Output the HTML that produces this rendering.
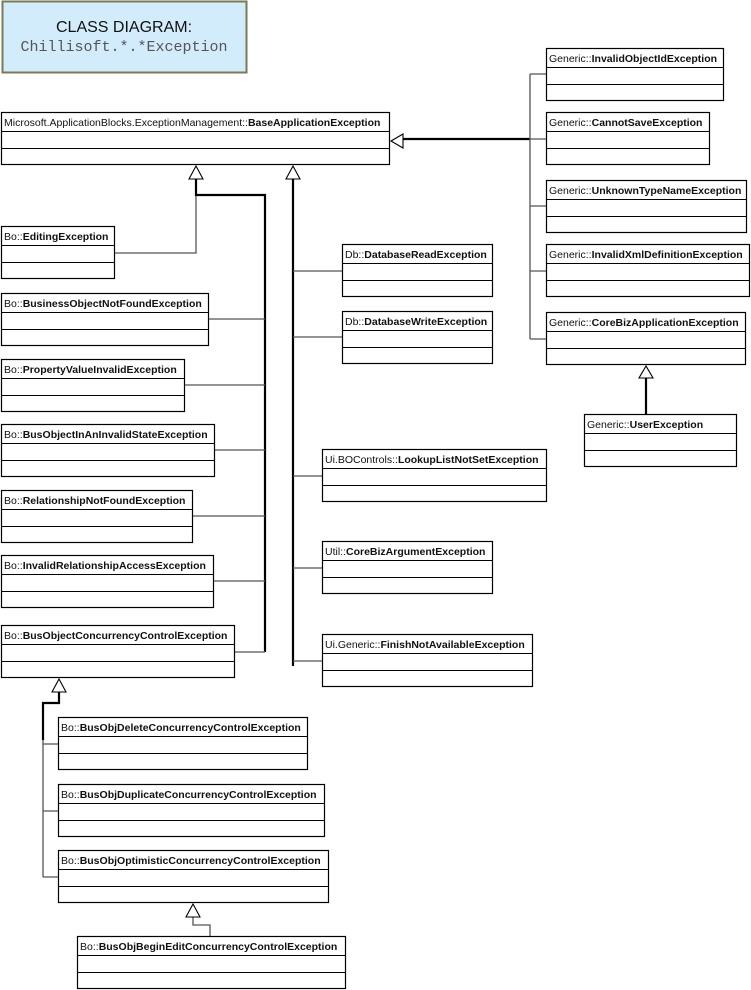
<!DOCTYPE html>
<html><head><meta charset="utf-8"><style>
html,body{margin:0;padding:0;background:#fff;}
svg{display:block;}
text{font-family:"Liberation Sans",sans-serif;font-size:10.5px;fill:#111;}
.b{font-weight:bold;}
.r{fill:#fff;stroke:#000;stroke-width:1.2;}
.t{stroke:#555;stroke-width:1.3;fill:none;}
.k{stroke:#000;stroke-width:2.2;fill:none;}
.tri{fill:#fff;stroke:#000;stroke-width:1.1;}
</style></head><body>
<svg width="751" height="990" viewBox="0 0 751 990" xmlns="http://www.w3.org/2000/svg">
<rect x="2.5" y="1.5" width="244" height="71" fill="#d3ecfb" stroke="#7a7a55" stroke-width="2"/>
<text x="124" y="32" text-anchor="middle" style="font-size:16px">CLASS DIAGRAM:</text>
<text x="124" y="51" text-anchor="middle" style="font-family:'Liberation Mono',monospace;font-size:15px;fill:#555">Chillisoft.*.*Exception</text>

<!-- connectors -->
<path class="k" d="M402 139H530"/>
<path class="t" d="M530 74V339M530 74H546M530 139H546M530 206H546M530 271H546M530 339H546"/>
<path class="k" d="M646 377V414"/>
<path class="t" d="M114 253H196V179"/>
<path class="k" d="M196 179V195H265V652"/>
<path class="t" d="M209 319H265M184 385H265M214 450H265M192 516H265M213 581H265M235 652H265"/>
<path class="k" d="M293 179V666"/>
<path class="t" d="M293 271H342M293 337H342M293 476H322M293 568H322M293 661H322"/>
<path class="k" d="M59 692V703H43V740"/>
<path class="t" d="M43 740V877M43 744H58M43 811H58M43 877H58"/>
<path class="t" d="M193 917V925H210V937"/>

<!-- arrowheads -->
<polygon class="tri" points="196,166 189,179 203,179"/>
<polygon class="tri" points="293,166 286,179 300,179"/>
<polygon class="tri" points="391,141 403,134 403,148"/>
<polygon class="tri" points="646,366 639,378 653,378"/>
<polygon class="tri" points="59,679 52,692 66,692"/>
<polygon class="tri" points="193,904 186,917 200,917"/>

<!-- base -->
<rect class="r" x="1.5" y="112.5" width="388" height="52"/><path stroke="#000" d="M1.5 131.5H389.5M1.5 148.5H389.5"/>
<text x="4" y="126">Microsoft.ApplicationBlocks.ExceptionManagement::<tspan class="b">BaseApplicationException</tspan></text>

<!-- generic boxes -->
<rect class="r" x="546.5" y="48.5" width="177" height="52"/><path stroke="#000" d="M546.5 67.5h177M546.5 84.5h177"/><text x="549" y="62">Generic::<tspan class="b">InvalidObjectIdException</tspan></text>
<rect class="r" x="546.5" y="112.5" width="163" height="52"/><path stroke="#000" d="M546.5 131.5h163M546.5 148.5h163"/><text x="549" y="126">Generic::<tspan class="b">CannotSaveException</tspan></text>
<rect class="r" x="546.5" y="180.5" width="200" height="52"/><path stroke="#000" d="M546.5 199.5h200M546.5 216.5h200"/><text x="549" y="194">Generic::<tspan class="b">UnknownTypeNameException</tspan></text>
<rect class="r" x="546.5" y="244.5" width="203" height="52"/><path stroke="#000" d="M546.5 263.5h203M546.5 280.5h203"/><text x="549" y="258">Generic::<tspan class="b">InvalidXmlDefinitionException</tspan></text>
<rect class="r" x="546.5" y="312.5" width="199" height="52"/><path stroke="#000" d="M546.5 331.5h199M546.5 348.5h199"/><text x="549" y="326">Generic::<tspan class="b">CoreBizApplicationException</tspan></text>
<rect class="r" x="584.5" y="414.5" width="152" height="52"/><path stroke="#000" d="M584.5 433.5h152M584.5 450.5h152"/><text x="587" y="428">Generic::<tspan class="b">UserException</tspan></text>

<!-- left column -->
<rect class="r" x="1.5" y="226.5" width="113" height="52"/><path stroke="#000" d="M1.5 245.5h113M1.5 262.5h113"/><text x="4" y="240">Bo::<tspan class="b">EditingException</tspan></text>
<rect class="r" x="1.5" y="293.5" width="207" height="52"/><path stroke="#000" d="M1.5 312.5h207M1.5 329.5h207"/><text x="4" y="307">Bo::<tspan class="b">BusinessObjectNotFoundException</tspan></text>
<rect class="r" x="1.5" y="359.5" width="183" height="52"/><path stroke="#000" d="M1.5 378.5h183M1.5 395.5h183"/><text x="4" y="373">Bo::<tspan class="b">PropertyValueInvalidException</tspan></text>
<rect class="r" x="1.5" y="424.5" width="213" height="52"/><path stroke="#000" d="M1.5 443.5h213M1.5 460.5h213"/><text x="4" y="438">Bo::<tspan class="b">BusObjectInAnInvalidStateException</tspan></text>
<rect class="r" x="1.5" y="490.5" width="191" height="52"/><path stroke="#000" d="M1.5 509.5h191M1.5 526.5h191"/><text x="4" y="504">Bo::<tspan class="b">RelationshipNotFoundException</tspan></text>
<rect class="r" x="1.5" y="555.5" width="212" height="52"/><path stroke="#000" d="M1.5 574.5h212M1.5 591.5h212"/><text x="4" y="569">Bo::<tspan class="b">InvalidRelationshipAccessException</tspan></text>
<rect class="r" x="1.5" y="625.5" width="233" height="52"/><path stroke="#000" d="M1.5 644.5h233M1.5 661.5h233"/><text x="4" y="639">Bo::<tspan class="b">BusObjectConcurrencyControlException</tspan></text>

<rect class="r" x="58.5" y="717.5" width="249" height="52"/><path stroke="#000" d="M58.5 736.5h249M58.5 753.5h249"/><text x="61" y="731">Bo::<tspan class="b">BusObjDeleteConcurrencyControlException</tspan></text>
<rect class="r" x="58.5" y="784.5" width="266" height="52"/><path stroke="#000" d="M58.5 803.5h266M58.5 820.5h266"/><text x="61" y="798">Bo::<tspan class="b">BusObjDuplicateConcurrencyControlException</tspan></text>
<rect class="r" x="58.5" y="850.5" width="270" height="52"/><path stroke="#000" d="M58.5 869.5h270M58.5 886.5h270"/><text x="61" y="864">Bo::<tspan class="b">BusObjOptimisticConcurrencyControlException</tspan></text>
<rect class="r" x="77.5" y="936.5" width="268" height="52"/><path stroke="#000" d="M77.5 955.5h268M77.5 972.5h268"/><text x="80" y="950">Bo::<tspan class="b">BusObjBeginEditConcurrencyControlException</tspan></text>

<!-- middle column -->
<rect class="r" x="342.5" y="244.5" width="150" height="52"/><path stroke="#000" d="M342.5 263.5h150M342.5 280.5h150"/><text x="345" y="258">Db::<tspan class="b">DatabaseReadException</tspan></text>
<rect class="r" x="342.5" y="311.5" width="150" height="52"/><path stroke="#000" d="M342.5 330.5h150M342.5 347.5h150"/><text x="345" y="325">Db::<tspan class="b">DatabaseWriteException</tspan></text>
<rect class="r" x="322.5" y="449.5" width="224" height="52"/><path stroke="#000" d="M322.5 468.5h224M322.5 485.5h224"/><text x="325" y="463">Ui.BOControls::<tspan class="b">LookupListNotSetException</tspan></text>
<rect class="r" x="322.5" y="541.5" width="170" height="52"/><path stroke="#000" d="M322.5 560.5h170M322.5 577.5h170"/><text x="325" y="555">Util::<tspan class="b">CoreBizArgumentException</tspan></text>
<rect class="r" x="322.5" y="634.5" width="210" height="52"/><path stroke="#000" d="M322.5 653.5h210M322.5 670.5h210"/><text x="325" y="648">Ui.Generic::<tspan class="b">FinishNotAvailableException</tspan></text>
</svg>
</body></html>
